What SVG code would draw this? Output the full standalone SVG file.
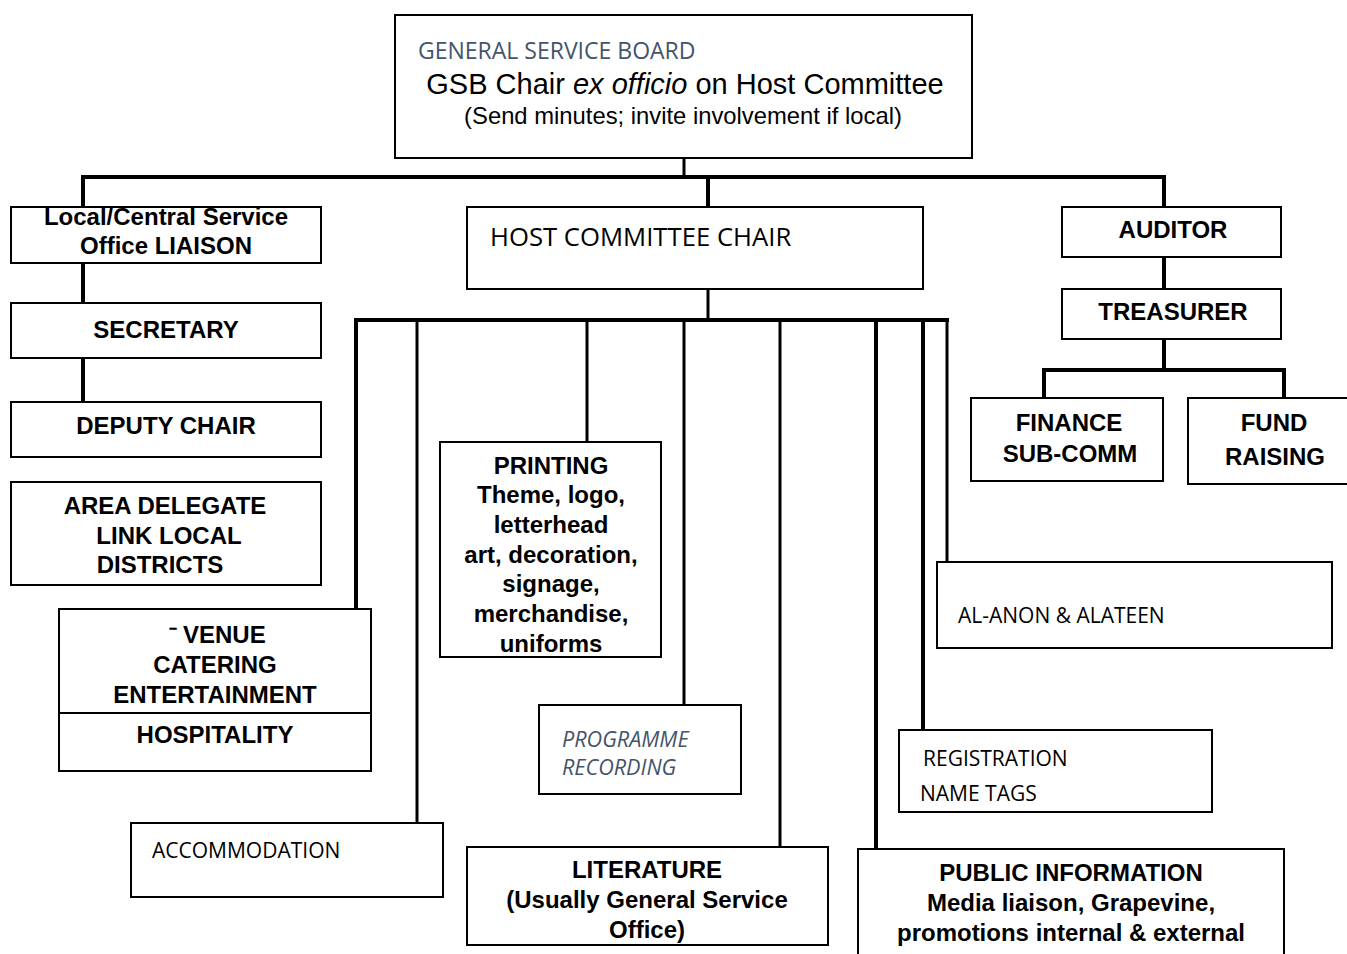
<svg xmlns="http://www.w3.org/2000/svg" width="1347" height="954" viewBox="0 0 1347 954">
<style>
.box{fill:#fff;stroke:#000;stroke-width:2}
.b{font-family:"Liberation Sans",Arial,sans-serif;font-weight:bold;font-size:24px;fill:#000;text-anchor:middle}
.r{font-family:"Liberation Sans",Arial,sans-serif;fill:#000;text-anchor:middle}
.o{font-family:"Open Sans","Noto Sans",sans-serif;font-size:21px;fill:#000}
.blue{fill:#44546A}
.c{stroke:#000;fill:none;stroke-width:3}
.c4{stroke:#000;fill:none;stroke-width:4}
</style>
<rect width="1347" height="954" fill="#fff"/>
<g id="connectors">
<line class="c" x1="684" y1="158" x2="684" y2="177"/>
<line class="c4" x1="81" y1="177" x2="1166" y2="177"/>
<line class="c4" x1="83" y1="175" x2="83" y2="207"/>
<line class="c4" x1="708" y1="177" x2="708" y2="207"/>
<line class="c4" x1="1164" y1="177" x2="1164" y2="207"/>
<line class="c4" x1="83" y1="263" x2="83" y2="303"/>
<line class="c4" x1="83" y1="358" x2="83" y2="402"/>
<line class="c" x1="708" y1="289" x2="708" y2="320"/>
<line class="c4" x1="354" y1="320" x2="949" y2="320"/>
<line class="c4" x1="356" y1="318" x2="356" y2="609"/>
<line class="c" x1="417" y1="320" x2="417" y2="823"/>
<line class="c" x1="587" y1="320" x2="587" y2="442"/>
<line class="c" x1="684" y1="320" x2="684" y2="705"/>
<line class="c" x1="780" y1="320" x2="780" y2="847"/>
<line class="c4" x1="876" y1="320" x2="876" y2="849"/>
<line class="c4" x1="923" y1="318" x2="923" y2="730"/>
<line class="c" x1="947" y1="320" x2="947" y2="562"/>
<line class="c4" x1="1164" y1="257" x2="1164" y2="289"/>
<line class="c4" x1="1164" y1="339" x2="1164" y2="370"/>
<line class="c4" x1="1042" y1="370" x2="1286" y2="370"/>
<line class="c4" x1="1044" y1="370" x2="1044" y2="398"/>
<line class="c4" x1="1284" y1="370" x2="1284" y2="398"/>
</g>
<g id="gsb">
<rect class="box" x="395" y="15" width="577" height="143"/>
<text class="o blue" x="418" y="59" style="font-size:23px">GENERAL SERVICE BOARD</text>
<text class="r" x="685" y="94" style="font-size:29px">GSB Chair <tspan font-style="italic">ex officio</tspan> on Host Committee</text>
<text class="r" x="683" y="124" style="font-size:23.8px">(Send minutes; invite involvement if local)</text>
</g>
<g id="liaison">
<rect class="box" x="11" y="207" width="310" height="56"/>
<text class="b" x="166" y="225">Local/Central Service</text>
<text class="b" x="166" y="254">Office LIAISON</text>
</g>
<g id="secretary">
<rect class="box" x="11" y="303" width="310" height="55"/>
<text class="b" x="166" y="338">SECRETARY</text>
</g>
<g id="deputy">
<rect class="box" x="11" y="402" width="310" height="55"/>
<text class="b" x="166" y="434">DEPUTY CHAIR</text>
</g>
<g id="delegate">
<rect class="box" x="11" y="482" width="310" height="103"/>
<text class="b" x="165" y="514">AREA DELEGATE</text>
<text class="b" x="169" y="544">LINK LOCAL</text>
<text class="b" x="160" y="573">DISTRICTS</text>
</g>
<g id="host">
<rect class="box" x="467" y="207" width="456" height="82"/>
<text class="o" x="490" y="246" style="font-size:25.7px">HOST COMMITTEE CHAIR</text>
</g>
<g id="auditor">
<rect class="box" x="1062" y="207" width="219" height="50"/>
<text class="b" x="1173" y="238">AUDITOR</text>
</g>
<g id="treasurer">
<rect class="box" x="1062" y="289" width="219" height="50"/>
<text class="b" x="1173" y="320">TREASURER</text>
</g>
<g id="finance">
<rect class="box" x="971" y="398" width="192" height="83"/>
<text class="b" x="1069" y="431">FINANCE</text>
<text class="b" x="1070" y="462">SUB-COMM</text>
</g>
<g id="fund">
<rect class="box" x="1188" y="398" width="162" height="86"/>
<text class="b" x="1274" y="431">FUND</text>
<text class="b" x="1275" y="465">RAISING</text>
</g>
<g id="printing">
<rect class="box" x="440" y="442" width="221" height="215"/>
<text class="b" x="551" y="474">PRINTING</text>
<text class="b" x="551" y="503">Theme, logo,</text>
<text class="b" x="551" y="533">letterhead</text>
<text class="b" x="551" y="563">art, decoration,</text>
<text class="b" x="551" y="592">signage,</text>
<text class="b" x="551" y="622">merchandise,</text>
<text class="b" x="551" y="652">uniforms</text>
</g>
<g id="venue">
<rect class="box" x="59" y="609" width="312" height="162"/>
<line x1="59" y1="713" x2="371" y2="713" stroke="#000" stroke-width="2"/>
<text class="b" x="169" y="643" style="text-anchor:start">⁻<tspan x="183">VENUE</tspan></text>
<text class="b" x="215" y="673">CATERING</text>
<text class="b" x="215" y="703">ENTERTAINMENT</text>
<text class="b" x="215" y="743">HOSPITALITY</text>
</g>
<g id="alanon">
<rect class="box" x="937" y="562" width="395" height="86"/>
<text class="o" x="958" y="623">AL-ANON &amp; ALATEEN</text>
</g>
<g id="programme">
<rect class="box" x="539" y="705" width="202" height="89"/>
<text class="o blue" x="562" y="747" font-style="italic" style="font-size:21.6px">PROGRAMME</text>
<text class="o blue" x="562" y="775" font-style="italic" style="font-size:21.6px">RECORDING</text>
</g>
<g id="registration">
<rect class="box" x="899" y="730" width="313" height="82"/>
<text class="o" x="923" y="766">REGISTRATION</text>
<text class="o" x="920" y="801">NAME TAGS</text>
</g>
<g id="accommodation">
<rect class="box" x="131" y="823" width="312" height="74"/>
<text class="o" x="152" y="858">ACCOMMODATION</text>
</g>
<g id="literature">
<rect class="box" x="467" y="847" width="361" height="98"/>
<text class="b" x="647" y="878">LITERATURE</text>
<text class="b" x="647" y="908">(Usually General Service</text>
<text class="b" x="647" y="938">Office)</text>
</g>
<g id="public">
<rect class="box" x="858" y="849" width="426" height="110"/>
<text class="b" x="1071" y="881">PUBLIC INFORMATION</text>
<text class="b" x="1071" y="911">Media liaison, Grapevine,</text>
<text class="b" x="1071" y="941">promotions internal &amp; external</text>
</g>
</svg>
